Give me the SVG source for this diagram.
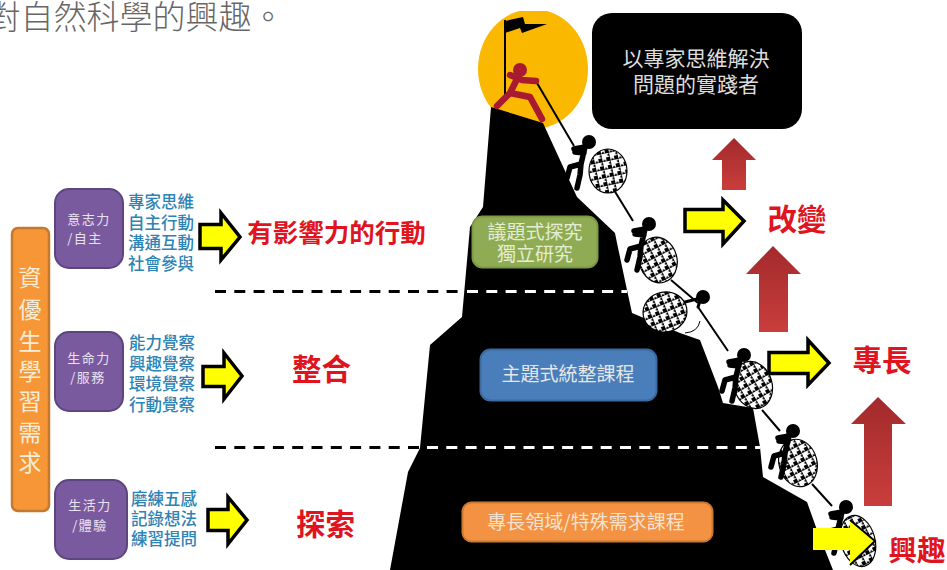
<svg xmlns="http://www.w3.org/2000/svg" width="947" height="570" viewBox="0 0 947 570">
<style>
text{font-family:"Noto Sans CJK TC","Noto Sans CJK SC",sans-serif;text-anchor:middle}
.ya{fill:#ffff00;stroke:#000;stroke-width:3.5;stroke-linejoin:miter}
.ra{fill:url(#rg)}
.pu{fill:#7a5a9e;stroke:#5c4680;stroke-width:2}
.pt{fill:#e8e2f0;font-size:13px;letter-spacing:1.5px}
.bt{fill:#2e83b5;font-size:16.5px;font-weight:500}
.rt{fill:#e0141e;font-weight:700}
.wt{fill:#e6e6e6;font-size:19px}
.lim{fill:none;stroke:#000;stroke-width:5.5;stroke-linecap:round;stroke-linejoin:round}
.rope{fill:none;stroke:#000;stroke-width:2}
.ball{fill:url(#hound);stroke:#000;stroke-width:1.2}
</style>
<defs>
<linearGradient id="rg" x1="0" y1="0" x2="0" y2="1"><stop offset="0" stop-color="#a32a2c"/><stop offset="1" stop-color="#c93e3c"/></linearGradient>
<pattern id="hound" width="8" height="8" patternUnits="userSpaceOnUse" patternTransform="rotate(-12)">
<rect width="8" height="8" fill="#fff"/>
<path d="M0 0H4V4H0ZM4 4H8L6 1.500ZM4 4V8L1.500 6Z" fill="#000"/>
</pattern>
<clipPath id="top"><rect x="0" y="11" width="947" height="559"/></clipPath>
<g id="climber">
<circle cx="0" cy="0" r="7" fill="#000"/>
<path class="lim" d="M-4 5L-15 7M-5 11L-14 10M-4 5L-8 22M-8 22L-9 33L-12 46M-8 22L-19 25L-22 36"/>
</g>
</defs>

<text x="136" y="29" style="font-size:33px;font-weight:300;fill:#666">對自然科學的興趣。</text>

<g id="sun"><ellipse cx="533" cy="69" rx="55" ry="60" fill="#fbb800" clip-path="url(#top)"/></g>

<g id="mountain"><path d="M491 107L543 123L577 197L615 233L617 243L627 290L632 313L680 333L700 340L718 387L723 403L753 408L760 447L763 477L807 502L817 530L833 570H390L408 472L420 448L430 345L462 317L470 227L483 207Z" fill="#000"/></g>

<g id="dividers" fill="none" stroke-width="3" stroke-dasharray="11 8.3">
<path d="M215 291.500H462" stroke="#000"/><path d="M467 291.500H627" stroke="#fff"/>
<path d="M215 447.500H420" stroke="#000"/><path d="M427 447.500H760" stroke="#fff"/>
</g>

<g id="connectors">
<path class="rope" d="M537 83L574 146M614 190L633 221M671 280L698 303M698 307L728 351M762 410L780 431M812 484L832 506"/>
<path d="M700 321Q698 332 685 333" fill="none" stroke="#000" stroke-width="1"/>
</g>

<g id="flag">
<path d="M505 20V97" stroke="#000" stroke-width="2" fill="none"/>
<path d="M505 21L523 17L525 24L547 24L522 33L520 28L505 33Z" fill="#000"/>
</g>
<g id="leader">
<circle cx="520" cy="70" r="7" fill="#a81a30"/>
<path d="M518 77L510 93M510 75L522 80L536 81M510 93L530 97L542 119M510 93L497 106" fill="none" stroke="#a81a30" stroke-width="6.500" stroke-linecap="round" stroke-linejoin="round"/>
</g>

<g id="climber1"><ellipse class="ball" cx="608" cy="171" rx="19" ry="22"/><use href="#climber" x="589" y="142"/></g>
<g id="climber2"><ellipse class="ball" cx="658" cy="260" rx="19" ry="23" transform="rotate(-15 658 260)"/><use href="#climber" x="649" y="224"/></g>
<g id="climber3"><ellipse class="ball" cx="665" cy="312" rx="22" ry="20" transform="rotate(-10 665 312)"/><circle cx="703" cy="297" r="7" fill="#000"/><path class="lim" d="M700 301L698 307M685 302L697 299" style="stroke-width:3"/></g>
<g id="climber4"><ellipse class="ball" cx="753" cy="385" rx="19" ry="24" transform="rotate(-18 753 385)"/><use href="#climber" x="744" y="355"/></g>
<g id="climber5"><ellipse class="ball" cx="798" cy="463" rx="19" ry="24" transform="rotate(-15 798 463)"/><use href="#climber" x="793" y="431"/></g>
<g id="climber6"><ellipse class="ball" cx="858" cy="541" rx="17" ry="26" transform="rotate(-15 858 541)"/><use href="#climber" x="846" y="507"/></g>

<g id="goal"><rect x="592" y="13" width="210" height="116" rx="20" fill="#000"/>
<text style="font-size:21px;fill:#ddd"><tspan x="696" y="66">以專家思維解決</tspan><tspan x="696" y="92">問題的實踐者</tspan></text></g>

<g id="course-green"><rect x="472.500" y="216.500" width="125" height="51" rx="10" fill="#8fac55" stroke="#7b9a42" stroke-width="2"/>
<text class="wt" style="fill:#e4edd2"><tspan x="535" y="239">議題式探究</tspan><tspan x="535" y="261">獨立研究</tspan></text></g>
<g id="course-blue"><rect x="480.500" y="349.500" width="176" height="51" rx="10" fill="#4a7ebb" stroke="#3a6a9f" stroke-width="2"/>
<text class="wt" x="568" y="381">主題式統整課程</text></g>
<g id="course-orange"><rect x="462.500" y="502.500" width="250" height="39" rx="9" fill="#f39242" stroke="#c97a30" stroke-width="2"/>
<text class="wt" x="586" y="529" style="fill:#f6e2d0">專長領域/特殊需求課程</text></g>

<g id="needs"><rect x="12" y="228" width="37" height="283" rx="6" fill="#f79636" stroke="#c47a2e" stroke-width="2.500"/>
<text style="font-size:23px;fill:#f6ecd8"><tspan x="30" y="286">資</tspan><tspan x="30" y="318">優</tspan><tspan x="30" y="350">生</tspan><tspan x="30" y="380">學</tspan><tspan x="30" y="410">習</tspan><tspan x="30" y="441">需</tspan><tspan x="30" y="471">求</tspan></text></g>

<g id="will"><rect class="pu" x="55" y="189" width="68" height="79" rx="14"/>
<text class="pt"><tspan x="89" y="224">意志力</tspan><tspan x="85" y="243">/自主</tspan></text>
<text class="bt"><tspan x="161" y="208">專家思維</tspan><tspan x="161" y="229">自主行動</tspan><tspan x="161" y="249">溝通互動</tspan><tspan x="161" y="270">社會參與</tspan></text></g>
<g id="life"><rect class="pu" x="55" y="332" width="68" height="79" rx="14"/>
<text class="pt"><tspan x="89" y="363">生命力</tspan><tspan x="88" y="382">/服務</tspan></text>
<text class="bt"><tspan x="162" y="349">能力覺察</tspan><tspan x="162" y="370">興趣覺察</tspan><tspan x="162" y="390">環境覺察</tspan><tspan x="162" y="411">行動覺察</tspan></text></g>
<g id="vital"><rect class="pu" x="55" y="480" width="72" height="79" rx="14"/>
<text class="pt"><tspan x="90" y="510">生活力</tspan><tspan x="90" y="530">/體驗</tspan></text>
<text class="bt"><tspan x="164" y="505">磨練五感</tspan><tspan x="164" y="525">記錄想法</tspan><tspan x="164" y="545">練習提問</tspan></text></g>

<g id="yellow-arrows">
<path class="ya" d="M200 224.500H221V213L240 237L221 260V248.500H200Z"/>
<path class="ya" d="M203 366.500H224V353L242 376L224 399V386.500H203Z"/>
<path class="ya" d="M208 509.500H228V497L247 520L228 544V530.500H208Z"/>
<path class="ya" d="M685 209.500H723V200L744 221L723 244V231.500H685Z"/>
<path class="ya" d="M769 352.500H808V340L829 363L808 385V373.500H769Z"/>
<path d="M813 528H850V520L875 541L850 565V550H813Z" fill="#ffff00"/>
<path d="M850 520L875 541L850 565" fill="none" stroke="#000" stroke-width="2"/>
</g>
<g id="red-arrows">
<path class="ra" d="M734 138L756 160H746V190H722V160H712Z"/>
<path class="ra" d="M773 246L801 274H788V332H759V274H746Z"/>
<path class="ra" d="M878 397L906 424H892V506H864V424H851Z"/>
</g>

<g id="labels">
<text class="rt" x="336.500" y="242" style="font-size:25.500px">有影響力的行動</text>
<text class="rt" x="321.500" y="380" style="font-size:29.500px">整合</text>
<text class="rt" x="325.500" y="535" style="font-size:29.500px">探索</text>
<text class="rt" x="797" y="230" style="font-size:29.500px">改變</text>
<text class="rt" x="882" y="371" style="font-size:29.500px">專長</text>
<text class="rt" x="917" y="561" style="font-size:28.500px">興趣</text>
</g>
</svg>
